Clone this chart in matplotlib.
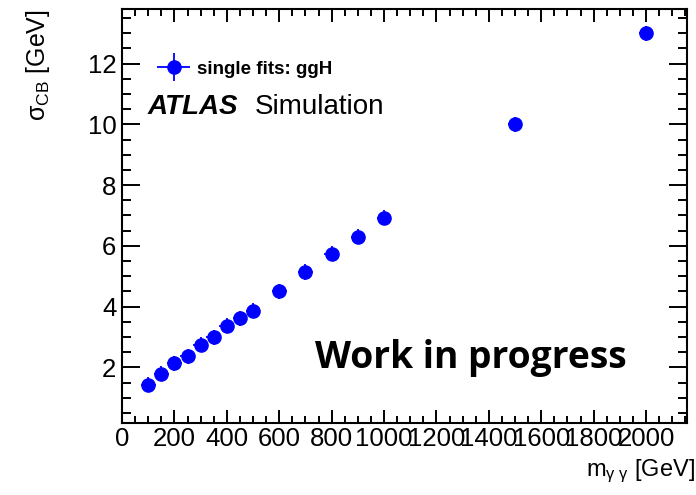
import matplotlib
matplotlib.use("Agg")
import matplotlib.pyplot as plt
from matplotlib.ticker import MultipleLocator
from matplotlib.legend_handler import HandlerErrorbar

# Mass points and fitted Crystal Ball widths
mass = [100, 150, 200, 250, 300, 350, 400, 450, 500, 600, 700, 800, 900, 1000, 1500, 2000]
sigma_cb = [1.43, 1.79, 2.13, 2.37, 2.74, 2.99, 3.37, 3.62, 3.87, 4.50, 5.14, 5.74, 6.30, 6.93, 10.0, 13.0]
sigma_err = [0.25] * len(mass)
mass_err = [28] * len(mass)

plt.rcParams['font.family'] = ['Liberation Sans', 'DejaVu Sans']
plt.rcParams['mathtext.fontset'] = 'custom'
plt.rcParams['mathtext.rm'] = 'Liberation Sans'
plt.rcParams['mathtext.it'] = 'Liberation Sans:italic'
plt.rcParams['mathtext.bf'] = 'Liberation Sans:bold'

fig = plt.figure(figsize=(6.96, 4.95), dpi=100)
ax = fig.add_axes([0.1753, 0.1455, 0.987 - 0.1753, 0.982 - 0.1455])

eb = ax.errorbar(mass, sigma_cb, yerr=sigma_err, xerr=mass_err, fmt='o', color='#0000ff',
                 markersize=9.5, elinewidth=1.3, capsize=0, label='single fits: ggH')

ax.set_xlim(0, 2156)
ax.set_ylim(0.17, 13.8)

ax.xaxis.set_major_locator(MultipleLocator(200))
ax.xaxis.set_minor_locator(MultipleLocator(50))
ax.yaxis.set_minor_locator(MultipleLocator(0.5))
ax.set_yticks([2, 4, 6, 8, 10, 12])

ax.tick_params(axis='both', which='both', direction='in', top=True, right=True,
               width=1.4, labelsize=18.5, colors='black')
ax.tick_params(axis='x', which='major', length=9.5, pad=3)
ax.tick_params(axis='x', which='minor', length=5)
ax.tick_params(axis='y', which='major', length=13, pad=4)
ax.tick_params(axis='y', which='minor', length=6.5)
for s in ax.spines.values():
    s.set_linewidth(1.5)

ax.set_xlabel(r'm$_{\mathrm{γ\ γ}}$ [GeV]', fontsize=17, ha='right', va='top')
ax.xaxis.set_label_coords(1.014, -0.083)
ax.set_ylabel(r'σ$_{\mathrm{CB}}$ [GeV]', fontsize=18, ha='right', va='center')
ax.yaxis.set_label_coords(-0.148, 1.0)

ax.legend(loc='center left', bbox_to_anchor=(0.062, 0.855), frameon=False,
          prop={'weight': 'bold', 'size': 13.5}, handlelength=1.76,
          handletextpad=0.37, borderaxespad=0, borderpad=0,
          handler_map={type(eb): HandlerErrorbar(xerr_size=0.88, yerr_size=0.75,
                                                  marker_pad=0)})

ax.text(99, 10.33, 'ATLAS', fontsize=20, fontweight='bold', fontstyle='italic',
        va='baseline')
ax.text(508, 10.33, 'Simulation', fontsize=20, va='baseline')

ax.text(737, 1.98, 'Work in progress', fontsize=26.8, fontweight='bold',
        family='Open Sans', va='baseline')

fig.savefig('out.png', dpi=100)
